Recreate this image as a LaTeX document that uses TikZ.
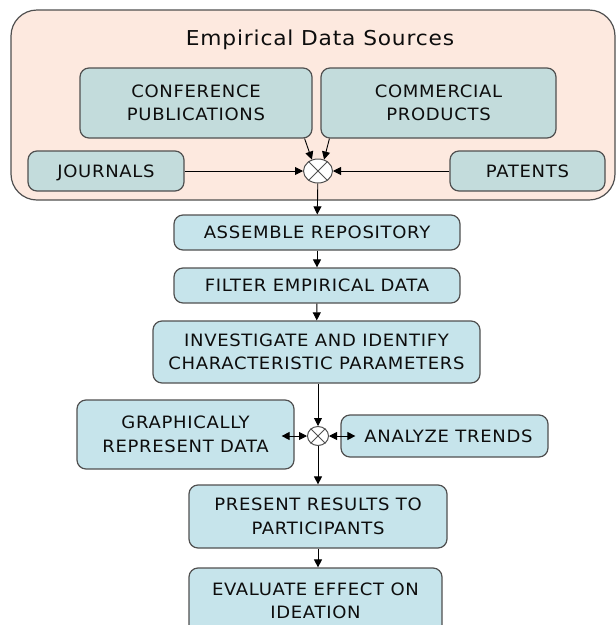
\documentclass[tikz,border=0pt]{standalone}
\usepackage{fontspec}
\setmainfont{DejaVu Sans}[FakeStretch=1.06, LetterSpace=4]
\usetikzlibrary{arrows.meta,shapes.geometric}
\definecolor{peach}{HTML}{FDE9DF}
\definecolor{srcfill}{HTML}{C3DCDC}
\definecolor{stepfill}{HTML}{C6E4EB}
\definecolor{edge}{HTML}{505050}
\begin{document}
\begin{tikzpicture}[x=1pt,y=-1pt,
  box/.style={draw=edge, line width=1.2pt, rounded corners=9pt, align=center,
    font=\fontsize{17}{23.5}\selectfont, text=black!95, inner sep=0pt},
  oneline/.style={text depth=0pt},
  srcbox/.style={box, fill=srcfill},
  stepbox/.style={box, fill=stepfill},
  mixer/.style={draw=edge, fill=white, ellipse, line width=1pt, inner sep=0pt},
  tip/.tip={Triangle[length=8pt,width=8pt]},
  flow/.style={-tip, line width=0.9pt, black},
  bflow/.style={tip-tip, line width=0.9pt, black}]
\useasboundingbox (0,0) rectangle (616,625);

% container for the data sources
\node[draw=edge, fill=peach, line width=1.2pt, rounded corners=26pt,
  minimum width=604pt, minimum height=190pt] (src) at (313,105) {};
\node[font=\fontsize{20.5}{24}\selectfont, text=black!95] (title) at (320,40) {Empirical Data Sources};

\node[srcbox, minimum width=232pt, minimum height=70pt] (conf) at (196,103) {CONFERENCE\\PUBLICATIONS};
\node[srcbox, minimum width=235pt, minimum height=70pt] (comm) at (438.5,103) {COMMERCIAL\\PRODUCTS};
\node[srcbox, oneline, minimum width=156pt, minimum height=40pt] (jour) at (106,171) {JOURNALS};
\node[srcbox, oneline, minimum width=155pt, minimum height=40pt] (pat) at (527.5,171) {PATENTS};
\node[mixer, minimum width=29pt, minimum height=24pt] (mix1) at (318,171) {};
\draw[edge, line width=0.8pt] (mix1.135) -- (mix1.-45) (mix1.45) -- (mix1.-135);

% process steps
\node[stepbox, oneline, minimum width=286pt, minimum height=35pt] (asm) at (317,232.5) {ASSEMBLE REPOSITORY};
\node[stepbox, oneline, minimum width=286pt, minimum height=35pt] (filt) at (317,285.5) {FILTER EMPIRICAL DATA};
\node[stepbox, minimum width=327pt, minimum height=62pt] (inv) at (316.5,352) {INVESTIGATE AND IDENTIFY\\CHARACTERISTIC PARAMETERS};
\node[mixer, minimum width=21pt, minimum height=19pt] (mix2) at (318,436) {};
\draw[edge, line width=0.8pt] (mix2.135) -- (mix2.-45) (mix2.45) -- (mix2.-135);
\node[stepbox, minimum width=217pt, minimum height=69pt] (graph) at (185.5,434.5) {GRAPHICALLY\\REPRESENT DATA};
\node[stepbox, oneline, minimum width=207pt, minimum height=42pt] (anal) at (444.5,436) {\hspace*{8pt}ANALYZE TRENDS};
\node[stepbox, minimum width=258pt, minimum height=63pt] (pres) at (318,516.5) {PRESENT RESULTS TO\\PARTICIPANTS};
\node[stepbox, minimum width=253pt, minimum height=66pt] (eval) at (315.5,601) {EVALUATE EFFECT ON\\IDEATION};

% connectors
\draw[flow] ([xshift=-8pt]conf.south east) -- (mix1.118);
\draw[flow] ([xshift=9pt]comm.south west) -- (mix1.62);
\draw[flow] (jour) -- (mix1);
\draw[flow] (pat) -- (mix1);
\draw[flow] (mix1) -- (asm);
\draw[flow] (asm) -- (filt);
\draw[flow] (filt) -- (inv);
\draw[flow] (inv.south -| mix2) -- (mix2);
\draw[bflow, shorten >=-13pt] (mix2) -- (graph.east |- mix2);
\draw[bflow, shorten >=-15pt] (mix2) -- (anal.west |- mix2);
\draw[flow] (mix2) -- (pres.north -| mix2);
\draw[flow] (pres.south -| mix2) -- (eval.north -| mix2);
\end{tikzpicture}
\end{document}
